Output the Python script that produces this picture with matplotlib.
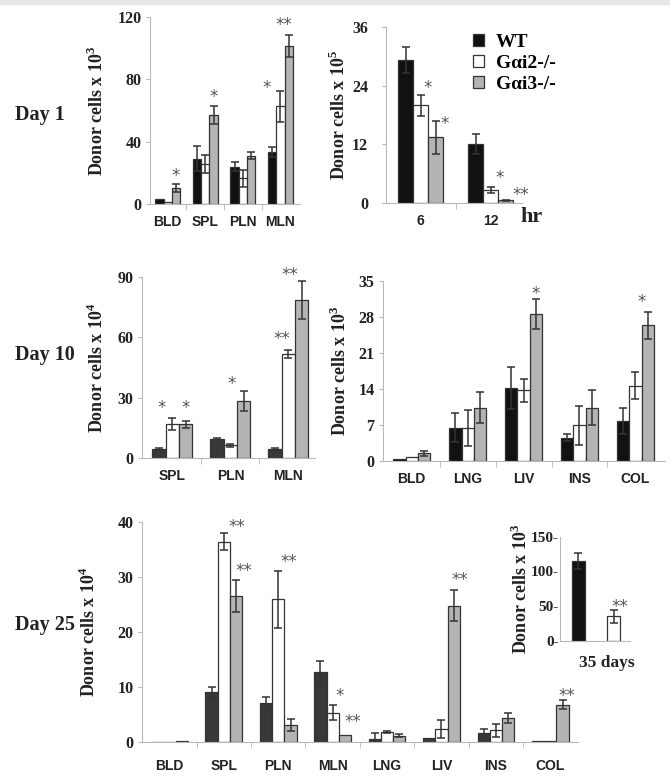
import numpy as np
import matplotlib
matplotlib.use("Agg")
from matplotlib import pyplot as plt
from matplotlib import transforms

plt.rcParams["font.family"] = ["Liberation Serif", "DejaVu Serif"]
plt.rcParams["font.weight"] = "bold"
plt.rcParams["mathtext.fontset"] = "custom"
plt.rcParams["mathtext.rm"] = "Liberation Serif:bold"
plt.rcParams["mathtext.bf"] = "Liberation Serif:bold"

series = ["WT", "G\u03b1i2-/-", "G\u03b1i3-/-"]

# Day 1, donor cells x 10^3
d1_tissues = ["BLD", "SPL", "PLN", "MLN"]
d1_wt = [3.5, 29, 24, 33.5]
d1_wt_err = [0, 8, 3, 3.2]
d1_g2 = [1.5, 25.5, 16.5, 62.5]
d1_g2_err = [0, 5.6, 5.3, 10]
d1_g3 = [10, 57, 31, 101]
d1_g3_err = [2.5, 5.6, 2, 7]

# hours, donor cells x 10^5
hr_labels = ["6", "12"]
hr_wt = [29.3, 12]
hr_wt_err = [2.7, 2]
hr_g2 = [20, 2.6]
hr_g2_err = [2.2, 0.7]
hr_g3 = [13.4, 0.55]
hr_g3_err = [3.4, 0.1]

# Day 10 lymphoid, x 10^4
d10a_tissues = ["SPL", "PLN", "MLN"]
d10a_wt = [4.2, 9.3, 4.2]
d10a_wt_err = [0.4, 0.4, 0.4]
d10a_g2 = [17, 6.2, 51.6]
d10a_g2_err = [3, 0.8, 2]
d10a_g3 = [16.6, 28.3, 78.7]
d10a_g3_err = [1.7, 5, 9.7]

# Day 10 non-lymphoid, x 10^3
d10b_tissues = ["BLD", "LNG", "LIV", "INS", "COL"]
d10b_wt = [0.4, 6.4, 14.2, 4.5, 7.7]
d10b_wt_err = [0, 2.8, 4.1, 0.6, 2.6]
d10b_g2 = [0.65, 6.4, 13.7, 6.9, 14.6]
d10b_g2_err = [0, 3.5, 2.2, 3.8, 2.6]
d10b_g3 = [1.4, 10.3, 28.6, 10.3, 26.3]
d10b_g3_err = [0.5, 3, 2.9, 3.4, 2.7]

# Day 25, x 10^4
d25_tissues = ["BLD", "SPL", "PLN", "MLN", "LNG", "LIV", "INS", "COL"]
d25_wt = [0.05, 9.1, 7.1, 12.7, 0.6, 0.7, 1.6, 0.2]
d25_wt_err = [0, 1, 1.2, 2, 1, 0, 0.8, 0]
d25_g2 = [0.05, 36.4, 25.9, 5.4, 1.9, 2.4, 2.2, 0.2]
d25_g2_err = [0, 1.6, 5.2, 1.3, 0.2, 1.6, 1.2, 0]
d25_g3 = [0.3, 26.6, 3.1, 1.3, 1.2, 24.8, 4.4, 6.8]
d25_g3_err = [0, 2.9, 1.1, 0, 0.3, 2.8, 0.9, 0.8]

# 35 days inset, x 10^3
d35_labels = ["WT", "G\u03b1i2-/-"]
d35_vals = [115, 35]
d35_err = [11, 10]

# significance marks: (group, series, text, x shift, y position)
d1_stars = [(0, 2, "*", 0, 17.7), (1, 2, "*", 0, 68.6), (3, 1, "*", -0.37, 74.4), (3, 2, "**", -0.12, 115)]
hr_stars = [(0, 1, "*", 0.1, 23.5), (0, 2, "*", 0.13, 16.2), (1, 1, "*", 0.13, 5.1), (1, 2, "**", 0.22, 1.6)]
d10a_stars = [(0, 1, "*", -0.18, 25), (0, 2, "*", 0, 25), (1, 2, "*", -0.21, 37), (2, 1, "**", -0.11, 59), (2, 2, "**", -0.21, 91)]
d10b_stars = [(2, 2, "*", 0, 32.5), (4, 2, "*", -0.1, 30.8)]
d25_stars = [(1, 1, "**", 0.23, 39.1), (1, 2, "**", 0.15, 31.1), (2, 1, "**", 0.2, 32.7), (3, 1, "*", 0.13, 8.4),
             (3, 2, "**", 0.15, 3.6), (5, 2, "**", 0.12, 29.5), (7, 2, "**", 0.07, 8.4)]

W, H = 670, 781
fig = plt.figure(figsize=(W / 100, H / 100), dpi=100)
fig.patches.append(plt.Rectangle((0, 1 - 4 / H), 1, 4 / H, transform=fig.transFigure, color="#e8e8e8", zorder=0))

black = "#111111"
dark = "#383838"
white = "#ffffff"
gray = "#b4b4b4"
edge = "#333333"
star_col = "#555555"


def px_axes(x0, x1, ytop, ybot):
    return fig.add_axes([x0 / W, 1 - ybot / H, (x1 - x0) / W, (ybot - ytop) / H])


def style(ax, cats, xlim, ymax, yticks, ylabel, label_px):
    for s in ["top", "right"]:
        ax.spines[s].set_visible(False)
    for s in ["left", "bottom"]:
        ax.spines[s].set_color("#b8b8b8")
        ax.spines[s].set_linewidth(0.8)
    ax.set_xlim(*xlim)
    ax.set_ylim(0, ymax)
    ax.set_yticks(yticks)
    ax.set_yticklabels([str(t) for t in yticks], fontsize=11.5, fontweight="bold", color="#222")
    ax.tick_params(axis="y", length=3, color="#b8b8b8", pad=3)
    ax.set_xticks(np.arange(len(cats)))
    ax.set_xticklabels(cats, fontsize=10, fontweight="bold", family="Liberation Sans", color="#222")
    ax.set_xticks(np.arange(len(cats) - 1) + 0.5, minor=True)
    ax.tick_params(axis="x", which="major", length=0, pad=8)
    ax.tick_params(axis="x", which="minor", length=4, color="#b8b8b8")
    ax.set_ylabel(ylabel, fontsize=13, fontweight="bold", color="#222", va="center")
    ax.yaxis.set_label_coords(label_px, 0.5, transform=transforms.blended_transform_factory(
        transforms.IdentityTransform(), ax.transAxes))


def draw_groups(ax, vals, errs, colors, stars, width=0.22):
    n = len(vals)
    for i, (v, e, c) in enumerate(zip(vals, errs, colors)):
        x = np.arange(len(v)) + (i - (n - 1) / 2) * width
        ax.bar(x, v, width, color=c, edgecolor=edge, linewidth=0.9, zorder=2)
        e = np.asarray(e, dtype=float)
        m = e > 0
        ax.errorbar(x[m], np.asarray(v)[m], yerr=e[m], fmt="none", ecolor=edge,
                    elinewidth=1.1, capsize=3, capthick=1.1, zorder=3)
    for g, s, t, dx, y in stars:
        x = g + (s - (n - 1) / 2) * width + dx
        ax.text(x, y, t, ha="center", va="center", fontsize=12, color=star_col,
                family="DejaVu Sans", fontweight="normal", clip_on=False)


# Day 1 left
ax1 = px_axes(150, 300, 16.7, 204)
draw_groups(ax1, [d1_wt, d1_g2, d1_g3], [d1_wt_err, d1_g2_err, d1_g3_err], [black, white, gray], d1_stars)
style(ax1, d1_tissues, (-0.47, 3.52), 120, [0, 40, 80, 120], "Donor cells x 10$^{3}$", 97)

# hours panel
ax2 = px_axes(386, 522, 27.3, 202.7)
draw_groups(ax2, [hr_wt, hr_g2, hr_g3], [hr_wt_err, hr_g2_err, hr_g3_err], [black, white, gray], hr_stars, width=0.214)
style(ax2, hr_labels, (-0.5, 1.45), 36, [0, 12, 24, 36], "Donor cells x 10$^{5}$", 339)
ax2.tick_params(axis="y", pad=10)
fig.text(532 / W, 1 - 217 / H, "hr", fontsize=16, fontweight="bold", ha="center", va="center", color="#222")

# Day 10 left
ax3 = px_axes(141.7, 315, 277.3, 457.7)
draw_groups(ax3, [d10a_wt, d10a_g2, d10a_g3], [d10a_wt_err, d10a_g2_err, d10a_g3_err], [dark, white, gray], d10a_stars, width=0.23)
style(ax3, d10a_tissues, (-0.53, 2.46), 90, [0, 30, 60, 90], "Donor cells x 10$^{4}$", 97)

# Day 10 right
ax4 = px_axes(382.7, 665, 280.7, 460.7)
draw_groups(ax4, [d10b_wt, d10b_g2, d10b_g3], [d10b_wt_err, d10b_g2_err, d10b_g3_err], [black, white, gray], d10b_stars)
style(ax4, d10b_tissues, (-0.52, 4.53), 35, [0, 7, 14, 21, 28, 35], "Donor cells x 10$^{3}$", 340)

# Day 25
ax5 = px_axes(141.7, 577.5, 521.7, 742.3)
draw_groups(ax5, [d25_wt, d25_g2, d25_g3], [d25_wt_err, d25_g2_err, d25_g3_err], [dark, white, gray], d25_stars, width=0.225)
style(ax5, d25_tissues, (-0.51, 7.5), 40, [0, 10, 20, 30, 40], "Donor cells x 10$^{4}$", 89)
ax5.tick_params(axis="x", which="major", pad=12)

# 35 days inset
ax6 = px_axes(560, 630, 536.7, 640.7)
ax6.bar(np.arange(2), d35_vals, 0.37, color=[black, white], edgecolor=edge, linewidth=0.9, zorder=2)
ax6.errorbar(np.arange(2), d35_vals, yerr=d35_err, fmt="none", ecolor=edge, elinewidth=1.1,
             capsize=3, capthick=1.1, zorder=3)
ax6.text(1.17, 48, "**", ha="center", va="center", fontsize=12, color=star_col, family="DejaVu Sans", fontweight="normal")
style(ax6, d35_labels, (-0.51, 1.46), 150, [0, 50, 100, 150], "Donor cells x 10$^{3}$", 521)
ax6.set_yticklabels([f"{t}-" for t in [0, 50, 100, 150]], fontsize=11)
ax6.tick_params(axis="y", length=0, pad=1)
ax6.set_xticklabels([])
ax6.tick_params(axis="x", which="minor", length=0)
fig.text(607 / W, 1 - 663 / H, "35 days", fontsize=12.5, fontweight="bold", ha="center", va="center", color="#222")

# legend
leg_handles = [plt.Rectangle((0, 0), 1, 1, facecolor=c, edgecolor=edge, linewidth=0.9) for c in [black, white, gray]]
fig.legend(leg_handles, series, loc="upper left", bbox_to_anchor=(463 / W, 1 - 24 / H), frameon=False,
           prop={"family": "Liberation Serif", "weight": "bold", "size": 14}, handlelength=0.6, handleheight=0.6,
           handletextpad=0.6, labelspacing=0.2, borderpad=0)

# day labels
for txt, y in [("Day 1", 115), ("Day 10", 355), ("Day 25", 625)]:
    fig.text(15 / W, 1 - y / H, txt, fontsize=14.5, fontweight="bold", ha="left", va="center", color="#222")

plt.savefig("out.png", dpi=100)
